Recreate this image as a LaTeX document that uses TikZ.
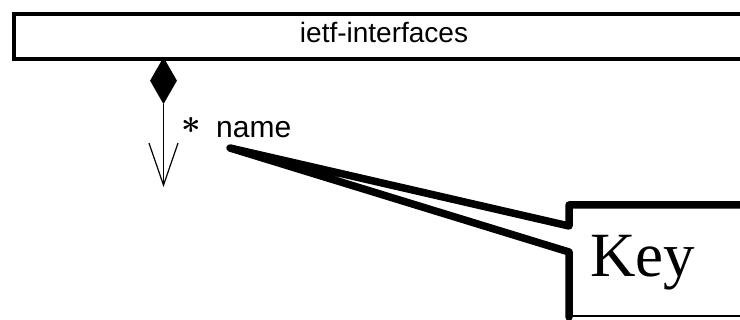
\documentclass[tikz,border=0pt]{standalone}
\usepackage{graphicx}
\usepackage{fontspec}
\setmainfont{Liberation Sans}
\newfontfamily\keyfont{Liberation Serif}
\usetikzlibrary{arrows.meta,positioning,shapes.geometric}

\begin{document}
\begin{tikzpicture}[x=1pt,y=-1pt,
	modbox/.style={draw,line width=4pt,minimum width=758pt,minimum height=45pt,inner sep=0pt},
	compose/.style={diamond,fill=black,minimum width=27pt,minimum height=47pt,inner sep=0pt},
	callout/.style={line width=7.5pt,line join=round,line cap=round}]
	\useasboundingbox (0,0) rectangle (740,320);
	\node[modbox,anchor=north west] (ifbox) at (12,12) {};
	\node[anchor=base,inner sep=0pt,font=\fontsize{28}{32}\selectfont] (iflabel) at (384,43) {ietf-interfaces};
	\node[compose,anchor=north] (dia) at (163.5,57) {};
	\coordinate (tip) at (163.5,187);
	\draw[line width=1.2pt,-{Straight Barb[length=42pt,width=29pt]}] (dia.south) -- (tip);
	\node[inner sep=0pt] (mult) at (191,125) {\scalebox{3.4}{\boldmath$\ast$}};
	\node[anchor=base west,inner sep=0pt,font=\fontsize{30}{34}\selectfont] (name) at (216,138) {name};
	\coordinate (pt) at (230,148);
	\draw[callout] (770,205) -- (569,205) -- (569,226) -- (pt) -- (569,252) -- (569,317);
	\draw[line width=2.5pt] (567,316) -- (770,316);
	\node[anchor=base west,inner sep=0pt,font=\keyfont\fontsize{63}{70}\selectfont] (key) at (590,277) {Key};
\end{tikzpicture}
\end{document}
